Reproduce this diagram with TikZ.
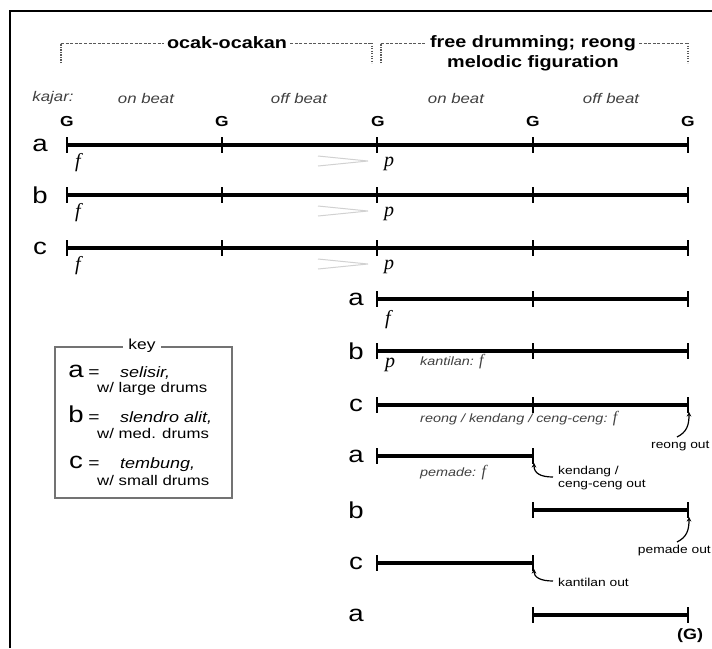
\documentclass[tikz,border=0pt]{standalone}
\usepackage{fontspec}
\setmainfont{Liberation Sans}[FakeStretch=1.2]
\newfontfamily\dynfont{Liberation Serif}
\usetikzlibrary{arrows.meta}
\begin{document}
\begin{tikzpicture}[x=1pt,y=-1pt,
  bar/.style={line width=3.3pt},
  tk/.style={line width=1.9pt},
  rowlbl/.style={font=\fontsize{23}{23}\selectfont, inner sep=0pt},
  gl/.style={font=\fontsize{14.5}{14.5}\selectfont\bfseries, inner sep=0pt},
  beat/.style={font=\fontsize{14}{14}\selectfont\itshape, text=black!75, inner sep=0pt},
  dyn/.style={font=\dynfont\itshape\fontsize{20}{20}\selectfont, inner sep=0pt},
  hair/.style={draw=black!18, line width=1pt},
  note/.style={font=\fontsize{12}{12}\selectfont\itshape, text=black!75, inner sep=0pt, anchor=west},
  outlbl/.style={font=\fontsize{11.5}{13}\selectfont, inner sep=0pt, anchor=west, align=left},
  arr/.style={line width=1.2pt, -{Stealth[length=4.5pt,width=4.5pt]}},
  hdr/.style={font=\fontsize{16.5}{16.5}\selectfont\bfseries, inner sep=3pt},
  hdash/.style={draw=black!65, line width=0.9pt, dash pattern=on 3pt off 1.6pt},
  vdot/.style={draw=black!65, line width=1.2pt, dash pattern=on 1.3pt off 1.2pt},
  keytxt/.style={font=\fontsize{14}{14}\selectfont, inner sep=0pt, anchor=base west},
  keyit/.style={font=\fontsize{15}{15}\selectfont\itshape, inner sep=0pt, anchor=base west},
  keyletter/.style={font=\fontsize{23}{23}\selectfont, inner sep=0pt, anchor=base},
  keyeq/.style={font=\fontsize{16}{16}\selectfont, inner sep=0pt, anchor=base},
]
\useasboundingbox (0,0) rectangle (712,648);
% frame
\coordinate (fr1) at (10,648); \coordinate (fr2) at (10,11); \coordinate (fr3) at (712,11);
\draw[line width=2pt] (fr1) -- (fr2) -- (fr3);

% header brackets
\node[hdr] (ocak) at (227,43) {ocak-ocakan};
\node[hdr] (free1) at (533,43) {free drumming; reong};
\node[hdr] (free2) at (533,63) {melodic figuration};
\coordinate (b1) at (61,63); \coordinate (b2) at (61,43);
\coordinate (b3) at (372,43); \coordinate (b4) at (372,63);
\coordinate (b5) at (381,63); \coordinate (b6) at (381,43);
\coordinate (b7) at (688,43); \coordinate (b8) at (688,63);
\draw[vdot] (b1) -- (b2);
\draw[hdash] (b2) -- (ocak.west |- b2);
\draw[hdash] (ocak.east |- b3) -- (b3);
\draw[vdot] (b3) -- (b4);
\draw[vdot] (b5) -- (b6);
\draw[hdash] (b6) -- (free1.west |- b6);
\draw[hdash] (free1.east |- b7) -- (b7);
\draw[vdot] (b7) -- (b8);

% beat labels
\node[beat] (kajar) at (53,98) {kajar:};
\node[beat] (on1) at (146,98) {on beat};
\node[beat] (off1) at (299,98) {off beat};
\node[beat] (on2) at (456,98) {on beat};
\node[beat] (off2) at (611,98) {off beat};
\foreach \i/\x in {0/67,1/222,2/378,3/533,4/688}
  \node[gl] (G\i) at (\x,122) {G};

% left rows
\foreach \n/\y/\l in {A/145/a,B/195/b,C/248/c}{
  \node[rowlbl] (lab\n) at (40,\y) {\l};
  \foreach \i/\x in {0/67,1/222,2/377,3/533,4/688}{
    \coordinate (\n\i) at (\x,\y);
    \draw[tk] (\n\i) ++(0,-8) -- ++(0,16);
  }
  \draw[bar] (\n0) -- (\n4);
  \node[dyn] (f\n) at (78,\y+18) {f};
  \node[dyn] (p\n) at (389,\y+19) {p};
  \coordinate (h\n a) at (318,\y+11);
  \coordinate (h\n b) at (368,\y+16);
  \coordinate (h\n c) at (318,\y+21);
  \draw[hair] (h\n a) -- (h\n b) -- (h\n c);
}

% right rows (three segments)
\foreach \n/\y/\l in {D/299/a,E/351/b,F/405/c}{
  \node[rowlbl] (lab\n) at (356,\y) {\l};
  \coordinate (\n0) at (377,\y);
  \coordinate (\n1) at (533,\y);
  \coordinate (\n2) at (688,\y);
  \draw[bar] (\n0) -- (\n2);
  \foreach \i in {0,1,2} \draw[tk] (\n\i) ++(0,-8) -- ++(0,16);
}
% short rows
\foreach \n/\y/\l/\xa/\xb in {G/456/a/377/533,H/510/b/533/688,I/563/c/377/533,J/615/a/533/688}{
  \node[rowlbl] (lab\n) at (356,\y) {\l};
  \coordinate (\n0) at (\xa,\y);
  \coordinate (\n1) at (\xb,\y);
  \draw[bar] (\n0) -- (\n1);
  \foreach \i in {0,1} \draw[tk] (\n\i) ++(0,-8) -- ++(0,16);
}

% dynamics and notes on right
\node[dyn] (fD) at (388,320) {f};
\node[dyn] (pE) at (390,365) {p};
\node[note] (kant) at (420,362) {kantilan: {\dynfont\itshape\fontsize{16}{16}\selectfont f}};
\node[note] (reongf) at (420,419) {reong / kendang / ceng-ceng: {\dynfont\itshape\fontsize{16}{16}\selectfont f}};
\node[note] (pemf) at (420,473) {pemade: {\dynfont\itshape\fontsize{16}{16}\selectfont f}};

% out labels and arrows
\node[outlbl] (reongout) at (651,446) {reong out};
\node[outlbl] (kendout) at (558,478) {kendang /\\ceng-ceng out};
\node[outlbl, anchor=east] (pemout) at (711,551) {pemade out};
\node[outlbl] (kantout) at (558,582) {kantilan out};
\coordinate (ra) at (677,437); \coordinate (rb) at (689,412);
\draw[arr] (ra) .. controls (687,432) and (689,425) .. (rb);
\coordinate (ka1) at (553,477); \coordinate (ka2) at (534,463);
\draw[arr] (ka1) .. controls (540,477) and (534,473) .. (ka2);
\coordinate (pa) at (677,542); \coordinate (pb) at (689,517);
\draw[arr] (pa) .. controls (687,537) and (689,530) .. (pb);
\coordinate (ta1) at (553,581); \coordinate (ta2) at (534,569);
\draw[arr] (ta1) .. controls (540,581) and (534,577) .. (ta2);
\node[font=\fontsize{15}{15}\selectfont\bfseries, inner sep=0pt] (gend) at (690,636) {(G)};

% key box
\coordinate (k1) at (55,347); \coordinate (k2) at (232,498);
\draw[draw=black!55, line width=1.2pt] (k1) rectangle (k2);
\node[fill=white, font=\fontsize{14.5}{14.5}\selectfont, inner xsep=5pt, inner ysep=1pt] (key) at (142,346) {key};
\node[keyletter] (kla) at (76,377) {a};
\node[keyeq] (kea) at (94,377) {=};
\node[keyit] (kta) at (120,377) {selisir,};
\node[keytxt] (ksa) at (97,392) {w/ large drums};
\node[keyletter] (klb) at (76,422) {b};
\node[keyeq] (keb) at (94,422) {=};
\node[keyit] (ktb) at (120,422) {slendro alit,};
\node[keytxt] (ksb) at (97,438) {w/ med. drums};
\node[keyletter] (klc) at (76,468) {c};
\node[keyeq] (kec) at (94,468) {=};
\node[keyit] (ktc) at (120,468) {tembung,};
\node[keytxt] (ksc) at (97,485) {w/ small drums};
\end{tikzpicture}
\end{document}
